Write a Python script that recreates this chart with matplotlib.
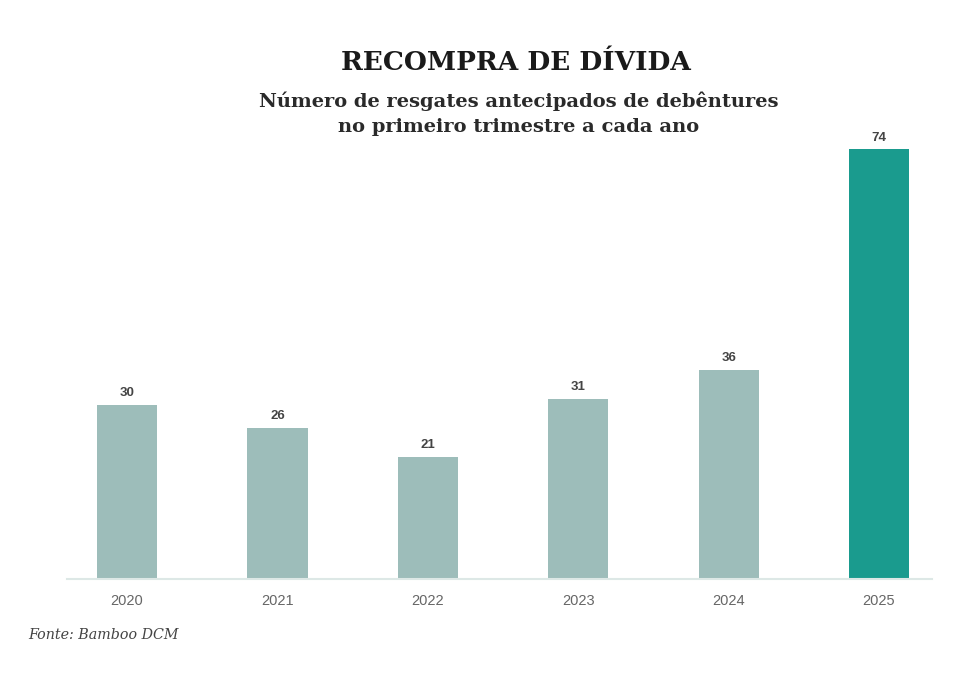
import matplotlib.pyplot as plt

anos = ['2020', '2021', '2022', '2023', '2024', '2025']
resgates = [30, 26, 21, 31, 36, 74]
cores = ['#9dbdba'] * 5 + ['#1a9b8e']

fig = plt.figure(figsize=(9.76, 6.76), dpi=100)
ax = fig.add_axes([0.0686, 0.1435, 0.886, 0.636])

x = range(len(anos))
ax.bar(x, resgates, width=0.4, color=cores)

# rótulos de valor acima das barras
for xi, v in zip(x, resgates):
    ax.annotate(str(v), (xi, v), xytext=(0, 4), textcoords='offset points',
                ha='center', va='bottom', fontsize=9.5, fontweight='bold',
                color='#444444', family='Liberation Sans')

ax.set_xlim(-0.4, 5.35)
ax.set_ylim(0, 74)
ax.set_xticks(list(x))
ax.set_xticklabels(anos, fontsize=10.5, color='#666666', family='Liberation Sans')
ax.tick_params(axis='x', length=0, pad=11)
ax.set_yticks([])
for lado in ['top', 'right', 'left']:
    ax.spines[lado].set_visible(False)
ax.spines['bottom'].set_color('#dde8e6')
ax.spines['bottom'].set_linewidth(1.5)

fig.text(0.529, 0.908, 'RECOMPRA DE DÍVIDA', ha='center', va='center',
         fontsize=19, fontweight='bold', family='DejaVu Serif', color='#1a1a1a')
fig.text(0.531, 0.832, 'Número de resgates antecipados de debêntures\nno primeiro trimestre a cada ano',
         ha='center', va='center', fontsize=14, fontweight='bold', family='DejaVu Serif',
         color='#2a2a2a', linespacing=1.5)
fig.text(0.029, 0.061, 'Fonte: Bamboo DCM', ha='left', va='center',
         fontsize=10.3, style='italic', family='DejaVu Serif', color='#444444')

plt.savefig('out.png', dpi=100)
